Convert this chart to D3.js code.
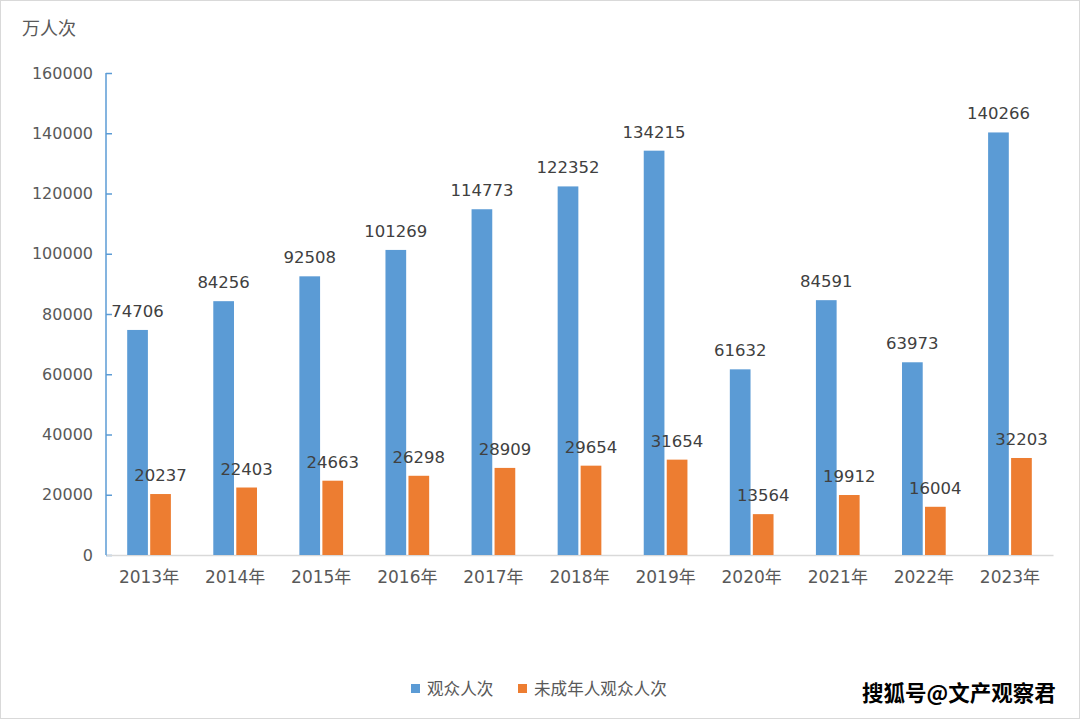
<!DOCTYPE html>
<html><head><meta charset="utf-8">
<script src="https://cdn.jsdelivr.net/npm/d3@7"></script>
<style>body{margin:0;background:#fff}svg{display:block}</style>
</head><body>
<script>
const years = ["2013年","2014年","2015年","2016年","2017年","2018年","2019年","2020年","2021年","2022年","2023年"];
const audience = [74706,84256,92508,101269,114773,122352,134215,61632,84591,63973,140266];
const minors = [20237,22403,24663,26298,28909,29654,31654,13564,19912,16004,32203];
const seriesNames = ["观众人次","未成年人观众人次"];
const yTicks = [0,20000,40000,60000,80000,100000,120000,140000,160000];
const colors = ["#5b9bd5","#ed7d31"];

(function(){
const W=1080,H=719;
const svg=d3.select("body").append("svg").attr("width",W).attr("height",H);
svg.append("rect").attr("x",0.5).attr("y",0.5).attr("width",W-1).attr("height",H-1).attr("fill","#fff").attr("stroke","#d9d9d9");

const mLeft=106,mRight=1053,mTop=73,mBottom=555;
const x=d3.scaleBand().domain(years).range([mLeft,mRight]).paddingInner(0).paddingOuter(0);
const y=d3.scaleLinear().domain([0,160000]).range([mBottom,mTop]);
const sub=d3.scaleBand().domain([0,1]).range([-23,23]).paddingInner(0.1).paddingOuter(0.05);

const font="'DejaVu Sans', sans-serif";
const ya=svg.append("g").attr("transform",`translate(${mLeft},0)`).call(d3.axisLeft(y).tickValues(yTicks).tickSize(-6).tickPadding(13).tickFormat(d3.format("d")));
ya.select(".domain").attr("stroke","#5b9bd5").attr("stroke-width",1.5).attr("d",`M0,${mTop}V${mBottom}`);
ya.selectAll(".tick line").attr("stroke","#5b9bd5").attr("stroke-width",1.5);
ya.selectAll(".tick text").attr("fill","#595959").style("font-family",font).style("font-size","16px");

const xa=svg.append("g").attr("transform",`translate(0,${mBottom})`).call(d3.axisBottom(x).tickSize(0).tickPadding(16));
xa.select(".domain").attr("stroke","#d9d9d9").attr("stroke-width",1.5);
xa.selectAll(".tick text").attr("fill","#595959").style("font-family",font+", 'Noto Sans CJK SC'").style("font-size","17px");

const data=years.map((yr,i)=>({yr,vals:[audience[i],minors[i]]}));
const g=svg.append("g");
data.forEach(d=>{
  const cx=x(d.yr)+x.bandwidth()/2;
  d.vals.forEach((v,k)=>{
    const bx=cx+sub(k);
    g.append("rect").attr("x",bx).attr("y",y(v)).attr("width",sub.bandwidth()).attr("height",mBottom-y(v)).attr("fill",colors[k]);
    g.append("text").attr("x",bx+sub.bandwidth()/2).attr("y",y(v)-13).attr("text-anchor","middle")
      .attr("fill","#404040").style("font-family",font).style("font-size","16.5px").text(v);
  });
});

svg.append("text").attr("x",22).attr("y",35).attr("fill","#595959").style("font-family","'Noto Sans CJK SC'").style("font-size","18px").text("万人次");

const lg=svg.append("g");
const lx=[411,518];
seriesNames.forEach((n,k)=>{
  lg.append("rect").attr("x",lx[k]).attr("y",684).attr("width",9).attr("height",9).attr("fill",colors[k]);
  lg.append("text").attr("x",lx[k]+16).attr("y",695).attr("fill","#595959").style("font-family","'Noto Sans CJK SC'").style("font-size","16.6px").text(n);
});

svg.append("text").attr("x",862).attr("y",701).attr("fill","#000").attr("stroke","#fff").attr("stroke-width",3).attr("paint-order","stroke")
  .style("font-family","'Noto Sans CJK SC'").style("font-weight","bold").style("font-size","21.5px").text("搜狐号@文产观察君");
})();
</script>
</body></html>
